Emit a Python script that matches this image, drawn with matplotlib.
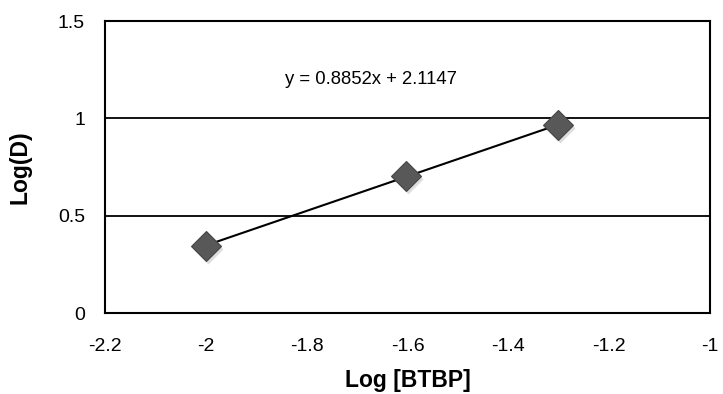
import numpy as np
import matplotlib.pyplot as plt
from matplotlib.transforms import ScaledTranslation

plt.rcParams['font.family'] = ['Liberation Sans', 'DejaVu Sans']

# data
log_btbp = [-2.0, -1.602, -1.301]
log_d = [0.345, 0.705, 0.965]
x_ticks = [-2.2, -2, -1.8, -1.6, -1.4, -1.2, -1]
y_ticks = [0, 0.5, 1, 1.5]

fig = plt.figure(figsize=(7.23, 3.94), dpi=100)
ax = fig.add_axes([105 / 723, 1 - 313 / 394, 605 / 723, 292 / 394])

# trendline
k, b = np.polyfit(log_btbp, log_d, 1)
xx = np.array([min(log_btbp), max(log_btbp)])
ax.plot(xx, k * xx + b, color='black', lw=1.5, zorder=3)

# shadow then markers
shadow = ax.transData + ScaledTranslation(2 / 100, -3 / 100, fig.dpi_scale_trans)
ax.plot(log_btbp, log_d, 'D', ms=15.5, color='#c8c8c8', mec='none',
        alpha=0.6, zorder=2, transform=shadow)
ax.plot(log_btbp, log_d, 'D', ms=15, color='#585858', mec='#454545', mew=0.8, zorder=4)

ax.text(-1.843, 1.197, 'y = 0.8852x + 2.1147', fontsize=13.3, va='center')

ax.set_xlim(-2.2, -1)
ax.set_ylim(0, 1.5)
ax.set_xticks(x_ticks)
ax.set_xticklabels(['-2.2', '-2', '-1.8', '-1.6', '-1.4', '-1.2', '-1'])
ax.set_yticks(y_ticks)
ax.set_yticklabels(['0', '0.5', '1', '1.5'])
ax.tick_params(length=0, labelsize=14)
ax.tick_params(axis='x', pad=18)
ax.tick_params(axis='y', pad=14.4)
for y in [0.5, 1.0]:
    ax.axhline(y, color='black', lw=1.3, zorder=1)
for s in ax.spines.values():
    s.set_linewidth(1.5)

ax.set_xlabel('Log [BTBP]', fontsize=16.5, fontweight='bold', labelpad=10)
ax.set_ylabel('Log(D)', fontsize=16.5, fontweight='bold', labelpad=19)

fig.savefig('out.png', dpi=100)
